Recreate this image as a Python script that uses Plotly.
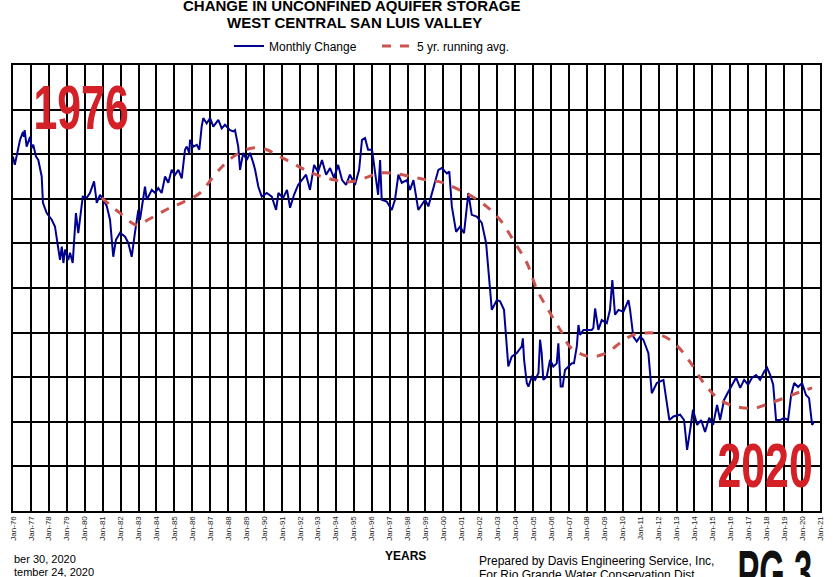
import plotly.graph_objects as go

# ---- data (thousand acre-feet) ----
monthly_year = [1976.0, 1976.1, 1976.39, 1976.56, 1976.61, 1976.65, 1976.76, 1976.95, 1977.04, 1977.13,
                1977.28, 1977.41, 1977.6, 1977.67, 1977.88, 1978.16, 1978.34, 1978.47, 1978.62, 1978.72,
                1978.81, 1978.9, 1979.08, 1979.18, 1979.33, 1979.4, 1979.51, 1979.64, 1979.74, 1979.89,
                1980.11, 1980.29, 1980.52, 1980.67, 1980.85, 1981.04, 1981.23, 1981.41, 1981.59, 1981.74,
                1981.97, 1982.25, 1982.43, 1982.62, 1982.8, 1982.99, 1983.08, 1983.36, 1983.46, 1983.74,
                1983.92, 1984.1, 1984.29, 1984.48, 1984.66, 1984.85, 1985.03, 1985.22, 1985.41, 1985.59,
                1985.69, 1985.83, 1985.87, 1986.06, 1986.25, 1986.39, 1986.52, 1986.61, 1986.8, 1986.99,
                1987.17, 1987.45, 1987.64, 1987.82, 1988.1, 1988.29, 1988.38, 1988.56, 1988.66, 1988.84,
                1989.03, 1989.22, 1989.4, 1989.5, 1989.68, 1989.87, 1990.15, 1990.43, 1990.67, 1990.8,
                1991.06, 1991.28, 1991.45, 1991.67, 1991.9, 1992.12, 1992.34, 1992.56, 1992.79, 1993.01,
                1993.23, 1993.46, 1993.68, 1993.9, 1994.13, 1994.35, 1994.57, 1994.79, 1995.07, 1995.3,
                1995.46, 1995.63, 1995.8, 1996.02, 1996.19, 1996.36, 1996.47, 1996.56, 1996.84, 1997.12,
                1997.3, 1997.49, 1997.68, 1997.96, 1998.14, 1998.33, 1998.6, 1998.79, 1998.98, 1999.16,
                1999.26, 1999.44, 1999.72, 1999.91, 2000.19, 2000.33, 2000.47, 2000.71, 2000.93, 2001.15,
                2001.39, 2001.58, 2001.86, 2002.14, 2002.38, 2002.51, 2002.7, 2002.98, 2003.16, 2003.38,
                2003.57, 2003.62, 2003.81, 2004.09, 2004.37, 2004.43, 2004.5, 2004.65, 2004.74, 2004.93,
                2005.11, 2005.3, 2005.39, 2005.48, 2005.57, 2005.76, 2005.95, 2006.13, 2006.32, 2006.41,
                2006.54, 2006.65, 2006.78, 2006.97, 2007.16, 2007.28, 2007.44, 2007.53, 2007.62, 2007.81,
                2008.27, 2008.36, 2008.46, 2008.64, 2008.83, 2009.11, 2009.29, 2009.42, 2009.57, 2009.76,
                2010.04, 2010.32, 2010.41, 2010.59, 2010.78, 2010.97, 2011.15, 2011.43, 2011.52, 2011.62,
                2011.9, 2012.27, 2012.46, 2012.6, 2012.83, 2013.2, 2013.42, 2013.59, 2013.76, 2013.92,
                2014.15, 2014.37, 2014.59, 2014.82, 2015.04, 2015.26, 2015.43, 2015.65, 2015.88, 2016.1,
                2016.32, 2016.55, 2016.77, 2016.99, 2017.21, 2017.44, 2017.66, 2017.88, 2018.05, 2018.22,
                2018.39, 2018.55, 2018.78, 2019.0, 2019.22, 2019.39, 2019.56, 2019.78, 2020.0, 2020.22,
                2020.39, 2020.56, 2020.67]
monthly_change = [-5, -24, 32, 50, 39, 54, 17, 39, 14, 21,
                  -5, -13, -50, -109, -132, -147, -162, -199, -237, -207,
                  -244, -214, -237, -221, -244, -199, -132, -177, -147, -95,
                  -98, -87, -61, -109, -91, -102, -117, -147, -230, -192,
                  -176, -185, -199, -230, -176, -125, -147, -73, -102, -80,
                  -87, -76, -87, -50, -64, -35, -47, -35, -54, 10,
                  17, 3, 32, 17, 21, 10, 62, 81, 69, 81,
                  62, 77, 58, 66, 54, 51, 54, 17, -35, 3,
                  -13, 3, -20, -35, -73, -95, -87, -95, -125, -87,
                  -98, -80, -120, -91, -69, -58, -46, -80, -24, -40,
                  -13, -46, -31, -53, -24, -58, -69, -46, -69, -35,
                  32, 36, 10, 10, -46, -91, -13, -102, -106, -125,
                  -102, -46, -64, -58, -80, -58, -125, -114, -102, -117,
                  -102, -73, -35, -31, -43, -39, -117, -174, -162, -177,
                  -87, -136, -140, -154, -199, -260, -349, -327, -330, -349,
                  -439, -476, -454, -446, -431, -413, -461, -513, -521, -499,
                  -506, -491, -416, -446, -506, -499, -461, -476, -469, -424,
                  -521, -521, -484, -476, -469, -469, -431, -383, -405, -394,
                  -394, -390, -346, -394, -372, -379, -349, -282, -360, -349,
                  -353, -327, -349, -409, -420, -409, -416, -446, -491, -536,
                  -513, -506, -558, -596, -588, -584, -596, -663, -618, -573,
                  -607, -596, -623, -591, -607, -562, -596, -551, -533, -517,
                  -501, -524, -506, -517, -501, -495, -506, -488, -479, -495,
                  -517, -596, -596, -591, -596, -540, -513, -522, -513, -540,
                  -547, -607, -600]

avg_year = [1980.95, 1981.41, 1981.97, 1982.9, 1983.53, 1984.2, 1984.76, 1985.41, 1986.43, 1987.15,
            1987.71, 1988.27, 1988.83, 1989.38, 1990.15, 1990.71, 1991.45, 1992.28, 1993.12, 1993.96,
            1994.79, 1995.63, 1996.47, 1997.42, 1998.31, 1999.09, 1999.81, 2000.54, 2001.1, 2001.65,
            2002.43, 2003.16, 2003.99, 2004.66, 2005.22, 2005.95, 2006.62, 2007.06, 2007.79, 2008.35,
            2009.13, 2009.85, 2010.58, 2011.25, 2011.69, 2012.47, 2013.09, 2013.76, 2014.59, 2015.43,
            2016.43, 2017.38, 2018.22, 2019.06, 2019.89, 2020.56]
avg_change = [-98, -114, -132, -159, -147, -132, -120, -109, -87, -51,
              -26, -6, 7, 14, 10, -2, -17, -35, -49, -58,
              -62, -53, -42, -44, -51, -58, -62, -73, -85, -96,
              -118, -147, -199, -244, -304, -356, -401, -432, -450, -454,
              -445, -423, -405, -401, -401, -412, -432, -466, -517, -551,
              -567, -569, -558, -546, -533, -524]

tick_years = list(range(1976, 2022))
tick_labels = ["Jan-%02d" % (y % 100) for y in tick_years]

fig = go.Figure()
fig.add_trace(go.Scatter(x=monthly_year, y=monthly_change, mode="lines", name="Monthly Change",
                         line=dict(color="#000090", width=2)))
fig.add_trace(go.Scatter(x=avg_year, y=avg_change, mode="lines", name="5 yr. running avg.",
                         line=dict(color="#CC5450", width=3, dash="dash", shape="spline")))

fig.update_xaxes(range=[1976, 2021], tickvals=tick_years, ticktext=tick_labels, tickangle=-90,
                 tickfont=dict(family="Arial, Liberation Sans", size=8, color="#222"),
                 showgrid=True, gridcolor="black", gridwidth=2, automargin=False,
                 showline=True, linecolor="black", linewidth=2, mirror=True, ticks="", zeroline=False)
fig.update_yaxes(range=[-800, 200], dtick=100, showticklabels=False, automargin=False,
                 showgrid=True, gridcolor="black", gridwidth=2,
                 showline=True, linecolor="black", linewidth=2, mirror=True, ticks="", zeroline=False)

ann = []
def txt(t, x, y, size, bold=False, color="black", xanchor="center", family="Arial, Liberation Sans"):
    ann.append(dict(text=("<b>%s</b>" % t) if bold else t, x=x, y=y, xref="paper", yref="paper",
                    xanchor=xanchor, yanchor="middle", showarrow=False,
                    font=dict(family=family, size=size, color=color)))

W, H = 833, 577
L, R, T, B = 13, 13, 65, 66
pw, ph = W - L - R, H - T - B
def px(x): return (x - L) / pw
def py(y): return (H - B - y) / ph

txt("CHANGE IN UNCONFINED AQUIFER STORAGE", px(352), py(6), 15, True)
txt("WEST CENTRAL SAN LUIS VALLEY", px(354), py(22), 15, True)
txt("YEARS", px(405), py(556), 12, True)
txt("Prepared by Davis Engineering Service, Inc,", px(477), py(561), 12, False, xanchor="left")
txt("For Rio Grande Water Conservation Dist.", px(477), py(575), 12, False, xanchor="left")
txt("ber 30, 2020", px(12), py(559), 11, False, xanchor="left")
txt("tember 24, 2020", px(12), py(572), 11, False, xanchor="left")
txt("1976", px(81), py(107), 63, True, color="#D42027")
txt("2020", px(765), py(465), 63, True, color="#D42027")
txt("PG 3", px(775), py(572), 63, True, color="#111")

fig.update_layout(
    width=W, height=H, margin=dict(l=L, r=R, t=T, b=B, autoexpand=False),
    paper_bgcolor="white", plot_bgcolor="white",
    annotations=ann,
    legend=dict(orientation="h", x=px(229), y=py(46), xanchor="left", yanchor="middle",
                font=dict(family="Arial, Liberation Sans", size=12, color="black"),
                bgcolor="rgba(0,0,0,0)", tracegroupgap=0, itemwidth=30,
                entrywidth=103, entrywidthmode="pixels"),
    showlegend=True,
)

post = """
document.body.style.margin = '0';
document.body.style.padding = '0';
var gd = document.getElementById('{plot_id}');
function sq(){
  gd.querySelectorAll('text.annotation-text').forEach(function(t){
    var s = t.textContent.replace(/\\s+/g,'');
    var k = null;
    if (s === '1976' || s === '2020') k = 0.68;
    if (s.indexOf('PG') === 0) k = 0.52;
    if (k === null) return;
    var orig = t.getAttribute('data-orig-tf');
    if (orig === null) { orig = t.getAttribute('transform') || ''; t.setAttribute('data-orig-tf', orig); }
    t.setAttribute('transform', orig);
    var b = t.getBBox(); var cx = b.x + b.width / 2;
    t.setAttribute('transform', orig + ' translate(' + cx + ',0) scale(' + k + ',1) translate(' + (-cx) + ',0)');
  });
}
sq(); setTimeout(sq, 30); gd.on('plotly_afterplot', sq);
"""

fig.write_html("out.html", post_script=post, config={"displayModeBar": False})
